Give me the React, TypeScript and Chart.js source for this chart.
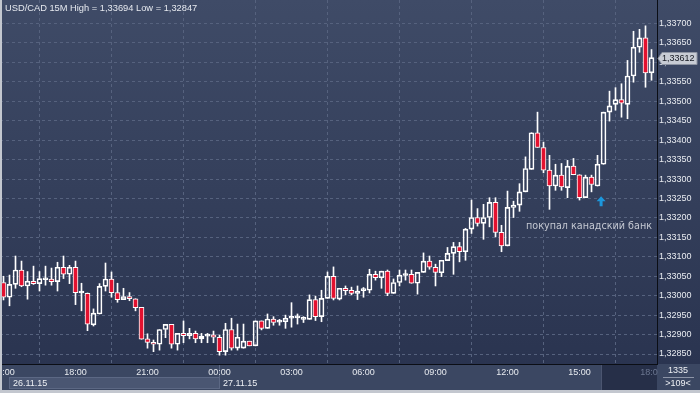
import React, { useEffect, useRef } from 'react';
import { Chart, registerables } from 'chart.js';

Chart.register(...registerables);

const symbolName = 'USD/CAD 15M';

const opens = [
  1.33034, 1.32996, 1.33029, 1.33066, 1.33025, 1.33037, 1.33031, 1.33041, 1.33043, 1.33036,
  1.33073, 1.33055, 1.33073, 1.33007, 1.33006, 1.32925, 1.32953, 1.33024, 1.33043, 1.33008,
  1.32990, 1.32998, 1.32992, 1.32970, 1.32889, 1.32880, 1.32875, 1.32913, 1.32926, 1.32875,
  1.32903, 1.32897, 1.32903, 1.32889, 1.32896, 1.32899, 1.32893, 1.32856, 1.32913, 1.32865,
  1.32865, 1.32883, 1.32871, 1.32935, 1.32916, 1.32940, 1.32932, 1.32933, 1.32942, 1.32943,
  1.32939, 1.32939, 1.32990, 1.32946, 1.32993, 1.33050, 1.32991, 1.33019, 1.33014, 1.33006,
  1.33013, 1.33014, 1.33055, 1.33046, 1.33063, 1.33006, 1.33034, 1.33052, 1.33055, 1.33032,
  1.33060, 1.33089, 1.33073, 1.33059, 1.33090, 1.33109, 1.33126, 1.33113, 1.33171, 1.33201,
  1.33186, 1.33201, 1.33240, 1.33163, 1.33128, 1.33227, 1.33233, 1.33267, 1.33325, 1.33419,
  1.33381, 1.33323, 1.33282, 1.33310, 1.33278, 1.33333, 1.33311, 1.33252, 1.33305, 1.33282,
  1.33338, 1.33472, 1.33492, 1.33504, 1.33492, 1.33565, 1.33639, 1.33663, 1.33573,
];

const highs = [
  1.33050, 1.33053, 1.33102, 1.33089, 1.33062, 1.33076, 1.33062, 1.33076, 1.33071, 1.33086,
  1.33102, 1.33078, 1.33089, 1.33032, 1.33007, 1.32966, 1.33031, 1.33084, 1.33061, 1.33032,
  1.33019, 1.33008, 1.32992, 1.32970, 1.32902, 1.32886, 1.32913, 1.32926, 1.32926, 1.32903,
  1.32935, 1.32916, 1.32909, 1.32903, 1.32903, 1.32909, 1.32899, 1.32929, 1.32942, 1.32927,
  1.32927, 1.32883, 1.32935, 1.32935, 1.32953, 1.32946, 1.32939, 1.32950, 1.32982, 1.32953,
  1.32946, 1.33002, 1.32999, 1.33014, 1.33061, 1.33074, 1.33019, 1.33025, 1.33022, 1.33025,
  1.33021, 1.33068, 1.33063, 1.33063, 1.33066, 1.33043, 1.33066, 1.33066, 1.33066, 1.33060,
  1.33110, 1.33102, 1.33081, 1.33091, 1.33124, 1.33137, 1.33137, 1.33173, 1.33246, 1.33224,
  1.33235, 1.33252, 1.33252, 1.33181, 1.33269, 1.33243, 1.33288, 1.33357, 1.33419, 1.33472,
  1.33395, 1.33361, 1.33338, 1.33340, 1.33348, 1.33353, 1.33311, 1.33310, 1.33310, 1.33361,
  1.33472, 1.33526, 1.33535, 1.33545, 1.33605, 1.33680, 1.33685, 1.33694, 1.33633,
];

const lows = [
  1.32989, 1.32974, 1.33019, 1.33023, 1.32991, 1.33029, 1.33012, 1.33027, 1.33027, 1.33012,
  1.33044, 1.33031, 1.32977, 1.32961, 1.32910, 1.32922, 1.32953, 1.33012, 1.32996, 1.32983,
  1.32990, 1.32987, 1.32961, 1.32888, 1.32865, 1.32856, 1.32860, 1.32892, 1.32865, 1.32860,
  1.32879, 1.32889, 1.32879, 1.32879, 1.32879, 1.32879, 1.32847, 1.32847, 1.32860, 1.32860,
  1.32865, 1.32871, 1.32871, 1.32912, 1.32916, 1.32924, 1.32924, 1.32916, 1.32919, 1.32927,
  1.32931, 1.32939, 1.32936, 1.32933, 1.32993, 1.32989, 1.32989, 1.33002, 1.33002, 1.32990,
  1.32996, 1.33007, 1.33040, 1.33019, 1.33000, 1.33006, 1.33025, 1.33040, 1.33032, 1.33004,
  1.33060, 1.33068, 1.33025, 1.33049, 1.33090, 1.33055, 1.33087, 1.33091, 1.33160, 1.33179,
  1.33145, 1.33177, 1.33151, 1.33113, 1.33128, 1.33201, 1.33217, 1.33267, 1.33325, 1.33381,
  1.33316, 1.33222, 1.33271, 1.33271, 1.33252, 1.33311, 1.33246, 1.33252, 1.33267, 1.33282,
  1.33338, 1.33449, 1.33477, 1.33459, 1.33455, 1.33549, 1.33626, 1.33536, 1.33554,
];

const closes = [
  1.32996, 1.33029, 1.33066, 1.33025, 1.33037, 1.33031, 1.33044, 1.33043, 1.33036, 1.33073,
  1.33055, 1.33073, 1.33008, 1.33008, 1.32927, 1.32955, 1.33024, 1.33043, 1.33008, 1.32990,
  1.32998, 1.32992, 1.32969, 1.32888, 1.32880, 1.32875, 1.32913, 1.32926, 1.32875, 1.32903,
  1.32897, 1.32903, 1.32889, 1.32896, 1.32897, 1.32893, 1.32856, 1.32913, 1.32865, 1.32893,
  1.32883, 1.32871, 1.32935, 1.32916, 1.32940, 1.32931, 1.32933, 1.32942, 1.32943, 1.32944,
  1.32940, 1.32990, 1.32946, 1.32993, 1.33050, 1.32993, 1.33019, 1.33013, 1.33006, 1.33012,
  1.33014, 1.33055, 1.33046, 1.33063, 1.33006, 1.33034, 1.33053, 1.33053, 1.33032, 1.33060,
  1.33089, 1.33073, 1.33060, 1.33091, 1.33109, 1.33126, 1.33113, 1.33171, 1.33201, 1.33186,
  1.33201, 1.33240, 1.33163, 1.33128, 1.33227, 1.33233, 1.33267, 1.33327, 1.33419, 1.33381,
  1.33323, 1.33282, 1.33310, 1.33280, 1.33333, 1.33311, 1.33252, 1.33305, 1.33286, 1.33338,
  1.33472, 1.33488, 1.33504, 1.33495, 1.33565, 1.33639, 1.33663, 1.33573, 1.33612,
];

const timeLabels = ['15:00', '18:00', '21:00', '00:00', '03:00', '06:00', '09:00', '12:00', '15:00', '18:00'];
const barsPerTimeLabel = 12;

const priceTicks = [
  1.3285, 1.329, 1.3295, 1.33, 1.3305, 1.331, 1.3315, 1.332, 1.3325,
  1.333, 1.3335, 1.334, 1.3345, 1.335, 1.3355, 1.336, 1.3365, 1.337,
];

const dateLabels = ['26.11.15', '27.11.15'];
const dateStarts = [0, 36];

const noteText = 'покупал канадский банк';
const noteIndex = 87.1;
const notePrice = 1.33177;
const arrowIndex = 99.6;
const arrowPrice = 1.33243;
const footerTop = '1335';

const FONT = "'Liberation Sans', Arial, sans-serif";
const RED = '#e3112f';
const X_MIN = -0.5833;
const X_MAX = 108.9167;
const Y_MIN = 1.328243;
const Y_MAX = 1.337604;

const fmt = (v: number) => v.toFixed(5).replace('.', ',');

const decor = {
  id: 'decor',
  beforeDraw(chart: any) {
    const { ctx, width, height, chartArea: a } = chart;
    const xs = chart.scales.x;
    ctx.save();
    const g = ctx.createLinearGradient(0, 0, 0, a.bottom);
    g.addColorStop(0, '#3f4b67');
    g.addColorStop(1, '#2a3450');
    ctx.fillStyle = g;
    ctx.fillRect(0, 0, width, a.bottom);
    ctx.fillStyle = '#3b4762';
    ctx.fillRect(0, a.bottom, width, height - a.bottom);
    // date row
    const sep = Math.round(xs.getPixelForValue(dateStarts[1]));
    ctx.fillStyle = '#4a5672';
    ctx.fillRect(9, 377, sep - 9, 12);
    ctx.strokeStyle = '#5c6884';
    ctx.lineWidth = 1;
    ctx.strokeRect(9.5, 377.5, sep - 9, 11);
    ctx.beginPath();
    ctx.moveTo(sep + 0.5, a.bottom);
    ctx.lineTo(sep + 0.5, 389);
    ctx.stroke();
    // dark scroll area
    ctx.fillStyle = '#262f48';
    ctx.fillRect(601, a.bottom, a.right - 601, 26);
    ctx.strokeStyle = '#4b5570';
    ctx.beginPath();
    ctx.moveTo(601.5, a.bottom);
    ctx.lineTo(601.5, a.bottom + 26);
    ctx.stroke();
    ctx.fillStyle = '#eef0f4';
    ctx.font = `9px ${FONT}`;
    ctx.textBaseline = 'middle';
    ctx.textAlign = 'left';
    ctx.fillText(dateLabels[0], 13, 383.5);
    ctx.fillText(dateLabels[1], sep + 4, 383.5);
    ctx.restore();
  },
  afterDatasetsDraw(chart: any) {
    const { ctx } = chart;
    const xs = chart.scales.x;
    const ys = chart.scales.y;
    ctx.save();
    // arrow annotation
    const ax = xs.getPixelForValue(arrowIndex);
    const ay = ys.getPixelForValue(arrowPrice);
    ctx.fillStyle = '#1c97dc';
    ctx.beginPath();
    ctx.moveTo(ax, ay - 5);
    ctx.lineTo(ax + 4.5, ay);
    ctx.lineTo(ax + 1.5, ay);
    ctx.lineTo(ax + 1.5, ay + 5);
    ctx.lineTo(ax - 1.5, ay + 5);
    ctx.lineTo(ax - 1.5, ay);
    ctx.lineTo(ax - 4.5, ay);
    ctx.closePath();
    ctx.fill();
    // note text
    ctx.fillStyle = '#c4c8d2';
    ctx.font = "9.6px 'DejaVu Sans', sans-serif";
    ctx.textBaseline = 'middle';
    ctx.textAlign = 'left';
    ctx.fillText(noteText, xs.getPixelForValue(noteIndex), ys.getPixelForValue(notePrice));
    ctx.restore();
  },
  afterDraw(chart: any) {
    const { ctx, width, height, chartArea: a } = chart;
    const ys = chart.scales.y;
    ctx.save();
    // title
    ctx.fillStyle = '#e6e9ef';
    ctx.font = `9.3px ${FONT}`;
    ctx.textBaseline = 'middle';
    ctx.textAlign = 'left';
    const title = `${symbolName} High = ${fmt(Math.max(...highs))} Low = ${fmt(Math.min(...lows))}`;
    ctx.fillText(title, 5, 8.5);
    // right column footer
    ctx.fillStyle = '#3b4762';
    ctx.fillRect(a.right + 1, a.bottom, width - a.right - 1, 26);
    ctx.fillStyle = '#eef0f4';
    ctx.font = `9px ${FONT}`;
    ctx.textAlign = 'center';
    const cx = a.right + 21;
    ctx.fillText(footerTop, cx, 371);
    ctx.fillText(`>${opens.length}<`, cx, 384);
    ctx.strokeStyle = '#8d95a8';
    ctx.lineWidth = 1;
    ctx.beginPath();
    ctx.moveTo(a.right + 6, 377.5);
    ctx.lineTo(width - 6, 377.5);
    ctx.stroke();
    // price marker
    const last = closes[closes.length - 1];
    const py = Math.round(ys.getPixelForValue(last));
    ctx.fillStyle = '#c8ccd4';
    ctx.beginPath();
    ctx.moveTo(a.right + 1, py + 0.5);
    ctx.lineTo(a.right + 5, py - 5.5);
    ctx.lineTo(width - 3, py - 5.5);
    ctx.lineTo(width - 3, py + 6.5);
    ctx.lineTo(a.right + 5, py + 6.5);
    ctx.closePath();
    ctx.fill();
    ctx.strokeStyle = '#8e94a2';
    ctx.stroke();
    ctx.fillStyle = '#161a22';
    ctx.textAlign = 'left';
    ctx.fillText(fmt(last), a.right + 5, py + 0.5);
    // frame
    ctx.fillStyle = '#c3c7cf';
    ctx.fillRect(0, 0, 2, height);
    ctx.fillRect(0, 390, width, 3);
    ctx.restore();
  },
};

export default function App() {
  const ref = useRef<HTMLCanvasElement>(null);

  useEffect(() => {
    document.body.style.margin = '0';
    const canvas = ref.current;
    if (!canvas) return;
    const idx = opens.map((_, i) => i);
    const chart = new Chart(canvas, {
      type: 'bar',
      data: {
        datasets: [
          {
            label: 'body',
            order: 0,
            data: idx.map((i) => ({ x: i, y: [opens[i], closes[i]] })) as any,
            backgroundColor: idx.map((i) => (closes[i] < opens[i] ? RED : 'rgba(0,0,0,0)')),
            borderColor: '#ffffff',
            borderWidth: 1,
            borderSkipped: false,
            barThickness: 5,
            minBarLength: 2,
            grouped: false,
          } as any,
          {
            label: 'upper',
            order: 1,
            data: idx.map((i) => ({ x: i, y: [Math.max(opens[i], closes[i]), highs[i]] })) as any,
            backgroundColor: '#ffffff',
            borderWidth: 0,
            barThickness: 1,
            grouped: false,
          } as any,
          {
            label: 'lower',
            order: 1,
            data: idx.map((i) => ({ x: i, y: [lows[i], Math.min(opens[i], closes[i])] })) as any,
            backgroundColor: '#ffffff',
            borderWidth: 0,
            barThickness: 1,
            grouped: false,
          } as any,
        ],
      },
      options: {
        animation: false,
        responsive: false,
        devicePixelRatio: 1,
        events: [],
        layout: { padding: 0 },
        plugins: {
          legend: { display: false },
          tooltip: { enabled: false },
          title: { display: false },
        },
        scales: {
          x: {
            type: 'linear',
            min: X_MIN,
            max: X_MAX,
            offset: false,
            grid: { color: '#56627e', lineWidth: 1, drawTicks: false, drawOnChartArea: true },
            border: { display: true, color: '#0b0e15', width: 1, dash: [3, 3] },
            afterBuildTicks: (scale: any) => {
              scale.ticks = timeLabels.map((_, k) => ({ value: k * barsPerTimeLabel }));
            },
            afterFit: (scale: any) => {
              scale.height = 29;
              scale.paddingLeft = 0;
              scale.paddingRight = 0;
            },
            ticks: {
              autoSkip: false,
              maxRotation: 0,
              minRotation: 0,
              padding: 3,
              font: { family: FONT, size: 9 },
              color: (c: any) => (c.index === timeLabels.length - 1 ? '#6b7690' : '#e8ebf0'),
              callback: (_v: any, i: number) => timeLabels[i],
            },
          },
          y: {
            position: 'right',
            min: Y_MIN,
            max: Y_MAX,
            stacked: false,
            grid: { color: '#56627e', lineWidth: 1, drawTicks: false },
            border: { display: true, color: '#0b0e15', width: 1, dash: [3, 3] },
            afterBuildTicks: (scale: any) => {
              scale.ticks = priceTicks.map((v) => ({ value: v }));
            },
            afterFit: (scale: any) => {
              scale.width = 43;
              scale.paddingTop = 0;
              scale.paddingBottom = 0;
            },
            ticks: {
              padding: 2,
              font: { family: FONT, size: 9 },
              color: '#e8ebf0',
              callback: (v: any) => fmt(Number(v)),
            },
          },
        },
      } as any,
      plugins: [decor],
    });
    return () => chart.destroy();
  }, []);

  return (
    <div style={{ position: 'absolute', left: 0, top: 0, width: 700, height: 393 }}>
      <canvas ref={ref} width={700} height={393} style={{ display: 'block' }} />
    </div>
  );
}
